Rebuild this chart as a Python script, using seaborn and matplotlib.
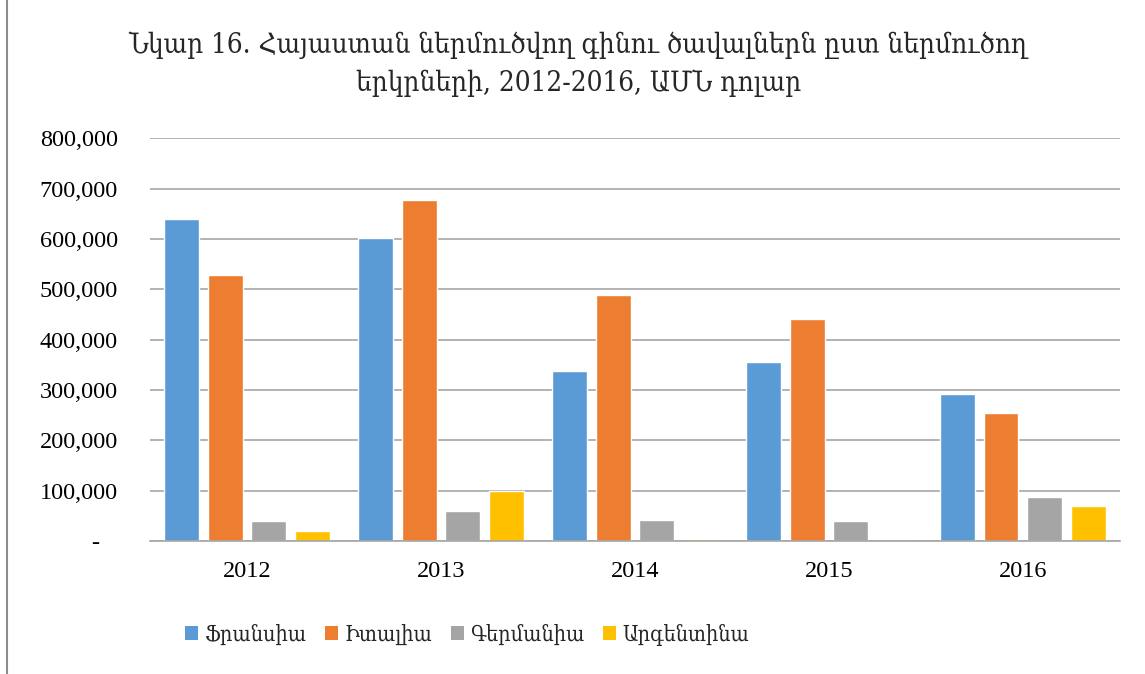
import matplotlib
matplotlib.use("Agg")
import matplotlib.pyplot as plt
import seaborn as sns
import pandas as pd
from matplotlib.patches import Patch
from matplotlib.ticker import FuncFormatter

years = ["2012", "2013", "2014", "2015", "2016"]
countries = ["Ֆրանսիա", "Իտալիա", "Գերմանիա", "Արգենտինա"]
france = [639000, 602000, 337000, 355000, 293000]
italy = [529000, 678000, 488000, 442000, 255000]
germany = [40000, 59000, 42000, 41000, 87000]
argentina = [21000, 99000, 5000, 0, 69000]
colors = ["#5B9BD5", "#ED7D31", "#A5A5A5", "#FFC000"]
title = "Նկար 16. Հայաստան ներմուծվող գինու ծավալներն ըստ ներմուծող\nերկրների, 2012-2016, ԱՄՆ դոլար"

rows = []
for c, vals in zip(countries, [france, italy, germany, argentina]):
    for y, v in zip(years, vals):
        rows.append({"year": y, "country": c, "value": v})
df = pd.DataFrame(rows)

sns.set_style("white")
FONT = ["Liberation Serif", "DejaVu Serif"]
plt.rcParams["font.family"] = FONT

fig = plt.figure(figsize=(11.45, 6.74), dpi=100)
ax = fig.add_axes([0.131, 0.197, 0.847, 0.598])
sns.barplot(data=df, x="year", y="value", hue="country", hue_order=countries,
            palette=colors, width=0.9, gap=0.2, ax=ax, legend=False,
            saturation=1, errorbar=None)
ax.set_ylim(0, 800000)
ax.set_yticks(range(0, 800001, 100000))
ax.yaxis.set_major_formatter(FuncFormatter(lambda v, p: "-   " if v == 0 else f"{v:,.0f}"))
ax.grid(axis="y", color="#A6A6A6", linewidth=1.2)
ax.set_axisbelow(True)
for s in ["top", "right", "left"]:
    ax.spines[s].set_visible(False)
ax.spines["bottom"].set_color("#A6A6A6")
ax.spines["bottom"].set_linewidth(1.2)
ax.tick_params(axis="both", length=0, labelsize=17.5, colors="black")
ax.tick_params(axis="y", pad=23)
ax.tick_params(axis="x", pad=14)
ax.set_xlabel("")
ax.set_ylabel("")

fig.text(0.505, 0.905, title, ha="center", va="center", fontsize=20,
         linespacing=1.45, family=["DejaVu Serif"], fontstretch="condensed")

handles = [Patch(facecolor=c, edgecolor="none") for c in colors]
fig.legend(handles, countries, loc="center", bbox_to_anchor=(0.408, 0.058), ncol=4,
           frameon=False, handlelength=0.6, handleheight=0.6,
           handletextpad=0.3, columnspacing=0.85,
           prop={"family": ["DejaVu Serif"], "size": 15.5, "stretch": "condensed"})

fig.add_artist(plt.Line2D([0.0065, 0.0065], [0, 1], transform=fig.transFigure,
                          color="#8C8C8C", linewidth=1.5))
fig.savefig("out.png", dpi=100)
